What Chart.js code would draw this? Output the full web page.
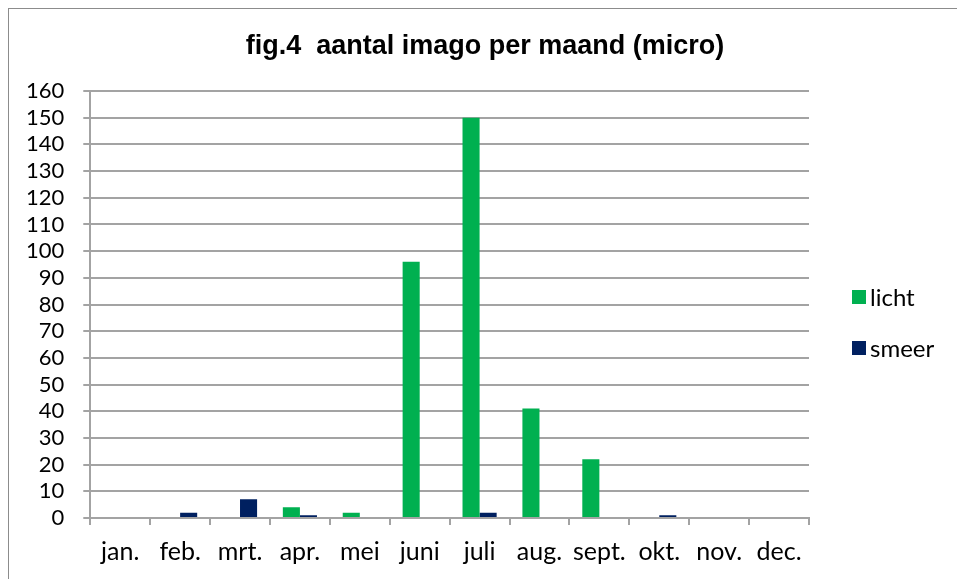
<!DOCTYPE html>
<html>
<head>
<meta charset="utf-8">
<script src="https://cdn.jsdelivr.net/npm/chart.js@4.4.0/dist/chart.umd.min.js"></script>
<style>
  html, body { margin: 0; padding: 0; background: #fff; }
  #wrap { position: absolute; left: 0; top: 0; width: 957px; height: 579px; }
  #frame { position: absolute; left: 8px; top: 8px; width: 960px; height: 600px; border: 1px solid #8c8c8c; box-sizing: border-box; }
</style>
</head>
<body>
<div id="frame"></div>
<div id="wrap"><canvas id="chart"></canvas></div>
<script>
// months (categories)
var maanden = ["jan.", "feb.", "mrt.", "apr.", "mei", "juni", "juli", "aug.", "sept.", "okt.", "nov.", "dec."];
// series values
var licht = [0, 0, 0, 4, 2, 96, 150, 41, 22, 0, 0, 0];
var smeer = [0, 2, 7, 1, 0, 0, 2, 0, 0, 1, 0, 0];
var yMax = 160, yStep = 10;
var titel = "fig.4  aantal imago per maand (micro)";

var gridGrey = "#a3a3a3";

// title + legend drawn by hand so they sit where the excel ones do
var excelBits = {
  id: "excelBits",
  afterDraw: function (chart) {
    var ctx = chart.ctx;
    ctx.save();
    ctx.fillStyle = "#000";
    ctx.font = "bold 27px 'Liberation Sans'";
    ctx.textAlign = "center";
    ctx.textBaseline = "middle";
    ctx.fillText(titel, 485, 47);

    var x = 852, y0 = 297, gap = 51;
    ctx.font = "24px Lato";
    ctx.textAlign = "left";
    chart.data.datasets.forEach(function (ds, i) {
      var y = y0 + i * gap;
      ctx.fillStyle = ds.backgroundColor;
      ctx.fillRect(x, y - 7, 14, 14);
      ctx.fillStyle = "#000";
      ctx.fillText(ds.label, x + 18, y + 1);
    });
    ctx.restore();
  }
};

new Chart(document.getElementById("chart"), {
  type: "bar",
  data: {
    labels: maanden,
    datasets: [
      { label: "licht", data: licht, backgroundColor: "#00b050", barPercentage: 1, categoryPercentage: 0.57 },
      { label: "smeer", data: smeer, backgroundColor: "#002060", barPercentage: 1, categoryPercentage: 0.57 }
    ]
  },
  options: {
    responsive: true,
    maintainAspectRatio: false,
    animation: false,
    layout: { padding: { left: 7, right: 148, top: 91, bottom: 0 } },
    plugins: {
      legend: { display: false },
      tooltip: { enabled: false }
    },
    scales: {
      x: {
        grid: { drawOnChartArea: false, color: gridGrey, lineWidth: 2, tickLength: 7, offset: true },
        border: { color: gridGrey, width: 2 },
        ticks: { color: "#000", font: { family: "Lato", size: 25 }, padding: 12, maxRotation: 0 }
      },
      y: {
        min: 0,
        max: yMax,
        ticks: { stepSize: yStep, autoSkip: false, color: "#000", font: { family: "Lato", size: 22 }, padding: 19 },
        grid: { color: gridGrey, lineWidth: 2, tickLength: 7 },
        border: { color: gridGrey, width: 2 }
      }
    }
  },
  plugins: [excelBits]
});
</script>
</body>
</html>
